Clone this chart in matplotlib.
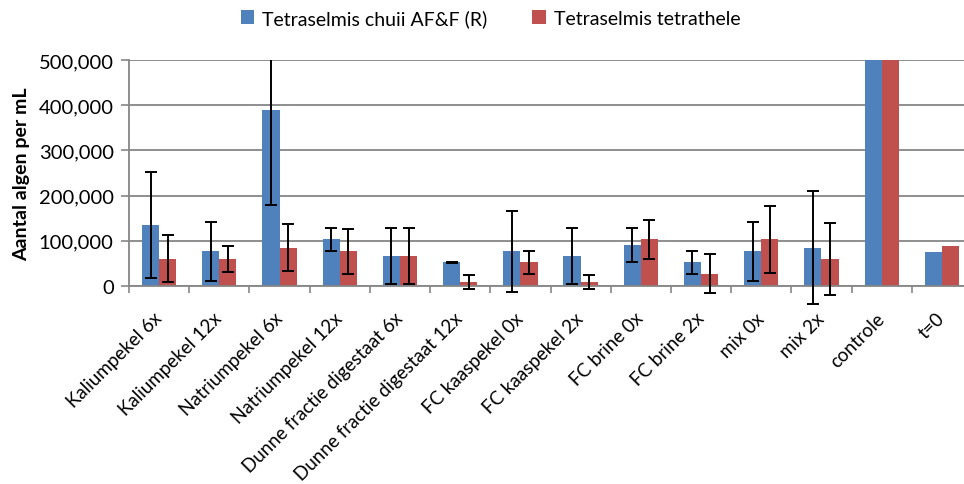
import matplotlib
matplotlib.use("Agg")
import matplotlib.pyplot as plt
import numpy as np
from matplotlib.patches import Rectangle
from matplotlib.ticker import FuncFormatter, MultipleLocator

plt.rcParams['font.family'] = ['Lato', 'DejaVu Sans']

categories = ["Kaliumpekel 6x", "Kaliumpekel 12x", "Natriumpekel 6x", "Natriumpekel 12x",
              "Dunne fractie digestaat 6x", "Dunne fractie digestaat 12x", "FC kaaspekel 0x",
              "FC kaaspekel 2x", "FC brine 0x", "FC brine 2x", "mix 0x", "mix 2x",
              "controle", "t=0"]
series_names = ["Tetraselmis chuii AF&F (R)", "Tetraselmis tetrathele"]
chuii = [135000, 77000, 390000, 103000, 66000, 52000, 77000, 66000, 91000, 52000, 77000, 85000, 620000, 75000]
chuii_err = [117000, 65000, 210000, 25000, 62000, 1000, 90000, 62000, 38000, 25000, 65000, 125000, np.nan, np.nan]
tetra = [60000, 60000, 85000, 77000, 66000, 9000, 52000, 9000, 103000, 27000, 103000, 60000, 610000, 88000]
tetra_err = [52000, 29000, 52000, 50000, 62000, 16000, 25000, 15000, 43000, 43000, 75000, 80000, np.nan, np.nan]

blue = "#4F81BD"
red = "#C0504D"
grid_c = "#868686"

fig = plt.figure(figsize=(9.64, 4.85), dpi=100)
W, H = 964, 485
ax = fig.add_axes([129 / W, (H - 287) / H, (972 - 129) / W, (287 - 61) / H])

x = np.arange(len(categories))
bw = 0.285
b1 = ax.bar(x - bw / 2, chuii, width=bw, color=blue, label=series_names[0], zorder=2)
b2 = ax.bar(x + bw / 2, tetra, width=bw, color=red, label=series_names[1], zorder=2)

clip_rect = Rectangle((0, -0.3), 1, 1.3, transform=ax.transAxes, visible=False)
ax.add_patch(clip_rect)
for xs, vals, errs in [(x - bw / 2, chuii, chuii_err), (x + bw / 2, tetra, tetra_err)]:
    eb = ax.errorbar(xs, vals, yerr=errs, fmt='none', ecolor='black', elinewidth=1.4,
                     capsize=4.5, capthick=1.4, zorder=3)
    for art in list(eb.lines[1]) + list(eb.lines[2]):
        art.set_clip_path(clip_rect)

ax.set_xlim(-0.5, len(categories) - 0.5)
ax.set_ylim(0, 500000)
ax.yaxis.set_major_locator(MultipleLocator(100000))
ax.yaxis.set_major_formatter(FuncFormatter(lambda v, p: f"{int(v):,}"))
ax.grid(axis='y', color=grid_c, linewidth=1.3, zorder=0)
ax.set_axisbelow(True)

for s in ['top', 'right']:
    ax.spines[s].set_visible(False)
for s in ['left', 'bottom']:
    ax.spines[s].set_color(grid_c)
    ax.spines[s].set_linewidth(1.3)

ax.tick_params(axis='y', direction='out', length=6, width=1.2, color=grid_c,
               labelsize=14.5, pad=5, labelcolor='black')
ax.set_xticks(x)
ax.set_xticklabels(categories, rotation=45, ha='right', va='center',
                   rotation_mode='anchor', fontsize=13.5)
ax.tick_params(axis='x', which='major', length=0, pad=21)
ax.set_xticks(np.arange(len(categories) + 1) - 0.5, minor=True)
ax.tick_params(axis='x', which='minor', direction='out', length=5, width=1.2, color=grid_c)

ax.set_ylabel("Aantal algen per mL", fontsize=14, fontweight='bold', labelpad=6)

fig.legend(handles=[b1, b2], labels=series_names, loc='upper left',
           bbox_to_anchor=(233 / W, 1 - 2 / H), ncol=2, frameon=False, fontsize=14,
           handlelength=0.7, handleheight=0.7, handletextpad=0.4, columnspacing=2.3,
           borderaxespad=0)

fig.savefig("out.png", dpi=100)
